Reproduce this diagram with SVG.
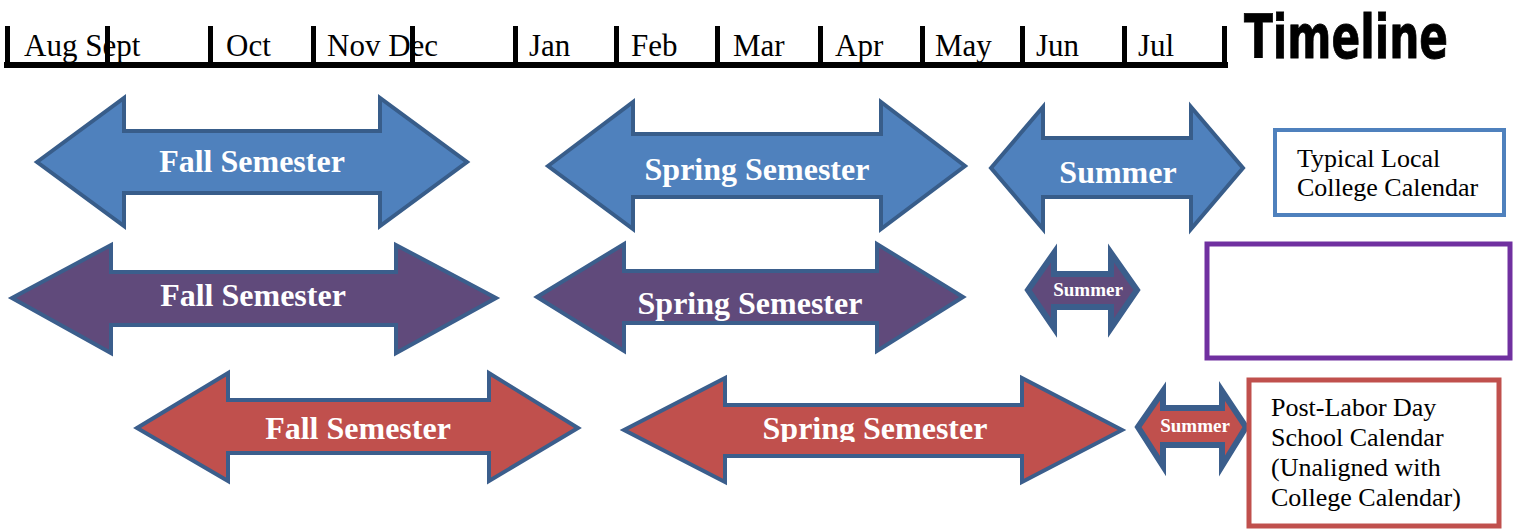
<svg xmlns="http://www.w3.org/2000/svg" width="1513" height="531" viewBox="0 0 1513 531">
<style>
.month{font-family:"Liberation Serif","Times New Roman",serif;font-size:31px;fill:#000}
.lbl{font-family:"Liberation Serif","Times New Roman",serif;font-weight:bold;fill:#fff;text-anchor:middle}
.big{font-size:32px}
.small{font-size:19px}
.box{font-family:"Liberation Serif","Times New Roman",serif;font-size:26px;fill:#000}
.blue{fill:#4F81BD;stroke:#385D8A;stroke-width:4;stroke-linejoin:miter}
.purple{fill:#604A7B;stroke:#3B5E8C;stroke-width:4}
.red{fill:#C0504D;stroke:#3B5E8C;stroke-width:4}
.thick{stroke-width:6}
.tick{fill:#000}
</style>
<defs>
<clipPath id="clipSp3"><rect x="700" y="380" width="360" height="62"/></clipPath>
</defs>
<g id="timeline-axis">
<rect class="tick" x="4" y="62" width="1224" height="6"/>
<rect class="tick" x="5" y="26" width="5" height="42"/>
<rect class="tick" x="105" y="26" width="5" height="42"/>
<rect class="tick" x="208" y="26" width="5" height="42"/>
<rect class="tick" x="311" y="26" width="5" height="42"/>
<rect class="tick" x="410" y="26" width="5" height="42"/>
<rect class="tick" x="513" y="26" width="5" height="42"/>
<rect class="tick" x="614" y="26" width="5" height="42"/>
<rect class="tick" x="715" y="26" width="5" height="42"/>
<rect class="tick" x="818" y="26" width="5" height="42"/>
<rect class="tick" x="920" y="26" width="5" height="42"/>
<rect class="tick" x="1020" y="26" width="5" height="42"/>
<rect class="tick" x="1122" y="26" width="5" height="42"/>
<rect class="tick" x="1222" y="26" width="5" height="42"/>
<text class="month" x="24" y="56">Aug Sept</text>
<text class="month" x="226" y="56">Oct</text>
<text class="month" x="327" y="56">Nov Dec</text>
<text class="month" x="529" y="56">Jan</text>
<text class="month" x="631" y="56">Feb</text>
<text class="month" x="733" y="56">Mar</text>
<text class="month" x="835" y="56">Apr</text>
<text class="month" x="935" y="56">May</text>
<text class="month" x="1036" y="56">Jun</text>
<text class="month" x="1138" y="56">Jul</text>
</g>
<g id="title">
<text x="1244" y="58" font-family="DejaVu Sans, sans-serif" font-weight="bold" font-stretch="condensed" font-size="60" stroke="#000" stroke-width="0.8" textLength="204" lengthAdjust="spacingAndGlyphs">Timeline</text>
</g>
<g id="row1-fall">
<path class="blue" d="M37,162 L124,98 L124,131 L380,131 L380,98 L467,162 L380,226 L380,193 L124,193 L124,226 Z"/>
<text class="lbl big" x="252" y="172">Fall Semester</text>
</g>
<g id="row1-spring">
<path class="blue" d="M548,166 L633,102 L633,134 L881,134 L881,102 L965,166 L881,229 L881,197 L633,197 L633,229 Z"/>
<text class="lbl big" x="757" y="180">Spring Semester</text>
</g>
<g id="row1-summer">
<path class="blue" d="M991,168 L1043,107 L1043,138 L1191,138 L1191,107 L1243,168 L1191,229 L1191,197 L1043,197 L1043,229 Z"/>
<text class="lbl big" x="1118" y="183">Summer</text>
</g>
<g id="legend-college">
<rect x="1275" y="130" width="229" height="85" fill="#fff" stroke="#4F81BD" stroke-width="4"/>
<text class="box" x="1297" y="167">Typical Local</text>
<text class="box" x="1297" y="196">College Calendar</text>
</g>
<g id="row2-fall">
<path class="purple" d="M12,298 L111,245 L111,272 L396,272 L396,245 L496,298 L396,353 L396,325 L111,325 L111,353 Z"/>
<text class="lbl big" x="253" y="306">Fall Semester</text>
</g>
<g id="row2-spring">
<path class="purple" d="M537,297 L624,244 L624,271 L877,271 L877,244 L963,297 L877,351 L877,323 L624,323 L624,351 Z"/>
<text class="lbl big" x="750" y="314">Spring Semester</text>
</g>
<g id="row2-summer">
<path class="purple thick" d="M1028,290 L1054,253 L1054,274 L1111,274 L1111,253 L1137,290 L1111,328 L1111,307 L1054,307 L1054,328 Z"/>
<text class="lbl small" x="1088" y="296">Summer</text>
</g>
<g id="legend-purple">
<rect x="1207" y="244" width="303" height="114" fill="#fff" stroke="#7030A0" stroke-width="5"/>
</g>
<g id="row3-fall">
<path class="red" d="M137,428 L228,373 L228,400 L489,400 L489,373 L578,428 L489,481 L489,453 L228,453 L228,481 Z"/>
<text class="lbl big" x="358" y="439">Fall Semester</text>
</g>
<g id="row3-spring">
<path class="red" d="M624,430 L725,378 L725,405 L1022,405 L1022,378 L1122,430 L1022,482 L1022,456 L725,456 L725,482 Z"/>
<text class="lbl big" x="875" y="439" clip-path="url(#clipSp3)">Spring Semester</text>
</g>
<g id="row3-summer">
<path class="red thick" d="M1138,427 L1163,391 L1163,408 L1222,408 L1222,391 L1246,427 L1222,466 L1222,445 L1163,445 L1163,466 Z"/>
<text class="lbl small" x="1195" y="432">Summer</text>
</g>
<g id="legend-postlabor">
<rect x="1249" y="380" width="250" height="146" fill="#fff" stroke="#C0504D" stroke-width="5"/>
<text class="box" x="1271" y="416">Post-Labor Day</text>
<text class="box" x="1271" y="446">School Calendar</text>
<text class="box" x="1271" y="476">(Unaligned with</text>
<text class="box" x="1271" y="506">College Calendar)</text>
</g>
<g id="connectors"></g>
</svg>
